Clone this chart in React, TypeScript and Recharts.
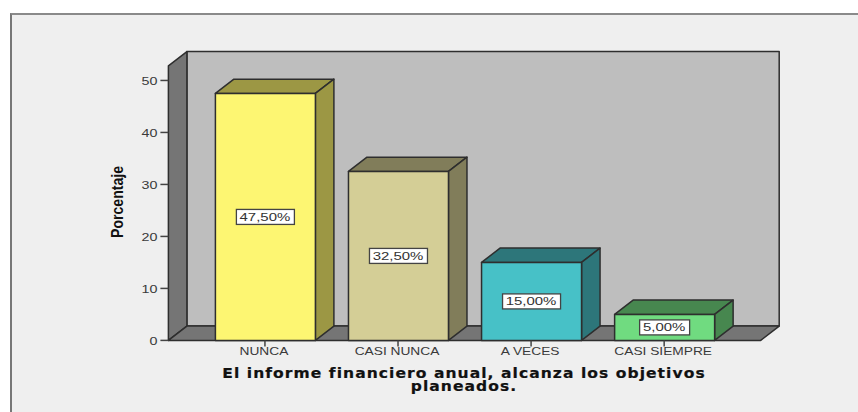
import React from "react";
import { Bar, BarChart, LabelList, XAxis, YAxis, usePlotArea } from "recharts";

const categories = ["NUNCA", "CASI NUNCA", "A VECES", "CASI SIEMPRE"];
const percentages = [47.5, 32.5, 15, 5];
const percentLabels = ["47,50%", "32,50%", "15,00%", "5,00%"];
const yTicks = [0, 10, 20, 30, 40, 50];
const yTitle = "Porcentaje";
const xTitleLines = ["El informe financiero anual, alcanza los objetivos", "planeados."];

const frontColors = ["#fdf672", "#d4ce96", "#47c1c7", "#70db80"];
const sideColors = ["#9c9744", "#817d5a", "#2d767a", "#47874f"];

const rows = categories.map((name, i) => ({ name, value: percentages[i], label: percentLabels[i] }));

const DX = 18.5;
const DY = 14.3;
const INK = "#2e2e2e";
const SANS = "'Liberation Sans', Arial, sans-serif";

function Walls() {
  const p = usePlotArea();
  if (!p) return null;
  const l = p.x, r = p.x + p.width, t = p.y, b = p.y + p.height;
  return (
    <g stroke={INK} strokeWidth={1.5} strokeLinejoin="round">
      <rect x={l + DX} y={t - DY} width={p.width} height={p.height} fill="#bebebe" />
      <polygon points={`${l},${t} ${l + DX},${t - DY} ${l + DX},${b - DY} ${l},${b}`} fill="#757575" />
      <polygon points={`${l},${b} ${l + DX},${b - DY} ${r + DX},${b - DY} ${r},${b}`} fill="#757575" />
    </g>
  );
}

function Bar3D(props: any) {
  const { x, y, width, height, index } = props;
  const front = frontColors[index];
  const side = sideColors[index];
  return (
    <g stroke={INK} strokeWidth={1.5} strokeLinejoin="round">
      <polygon points={`${x},${y} ${x + DX},${y - DY} ${x + width + DX},${y - DY} ${x + width},${y}`} fill={side} />
      <polygon points={`${x + width},${y} ${x + width + DX},${y - DY} ${x + width + DX},${y + height - DY} ${x + width},${y + height}`} fill={side} />
      <rect x={x} y={y} width={width} height={height} fill={front} />
    </g>
  );
}

function ValueBox(props: any) {
  const { x, y, width, height, value } = props;
  const cx = x + width / 2;
  const cy = y + height / 2;
  const w = String(value).length > 5 ? 58 : 50;
  return (
    <g>
      <rect x={cx - w / 2} y={cy - 7.5} width={w} height={15} fill="#fff" stroke="#444" strokeWidth={1.3} />
      <text
        transform={`translate(${cx - 0.5},${cy + 4}) scale(1.3,1)`}
        textAnchor="middle"
        fontFamily={SANS}
        fontSize={11.5}
        fill="#333"
      >
        {value}
      </text>
    </g>
  );
}

function XTick(props: any) {
  const { x, y, payload } = props;
  return (
    <text transform={`translate(${x - 1},${y + 7}) scale(1.25,1)`} textAnchor="middle" fontFamily={SANS} fontSize={11} fill="#3a3a3a">
      {payload.value}
    </text>
  );
}

function YTick(props: any) {
  const { x, y, payload } = props;
  return (
    <text transform={`translate(${x - 1},${y + 4.5}) scale(1.3,1)`} textAnchor="end" fontFamily={SANS} fontSize={11} fill="#3a3a3a">
      {payload.value}
    </text>
  );
}

function Titles() {
  return (
    <g>
      <text
        transform="translate(123,202) rotate(-90) scale(0.88,1)"
        textAnchor="middle"
        fontFamily={SANS}
        fontWeight="bold"
        fontSize={16}
        fill="#111"
      >
        {yTitle}
      </text>
      <text
        transform="translate(464,378) scale(1.11,1)"
        textAnchor="middle"
        fontFamily="'DejaVu Sans', sans-serif"
        fontWeight="bold"
        fontSize={14}
        letterSpacing={0.95}
        stroke="#111"
        strokeWidth={0.2}
        fill="#111"
      >
        {xTitleLines.map((line, i) => (
          <tspan key={line} x={0} y={i * 12.5}>
            {line}
          </tspan>
        ))}
      </text>
    </g>
  );
}

export default function App() {
  return (
    <div style={{ position: "absolute", left: 0, top: 0, width: 858, height: 412, overflow: "hidden", background: "#fff" }}>
      <div
        style={{
          position: "absolute",
          left: 10,
          top: 13,
          width: 900,
          height: 450,
          boxSizing: "border-box",
          background: "#efefef",
          borderLeft: "2px solid #777",
          borderTop: "2px solid #8a8a8a",
        }}
      />
      <div style={{ position: "absolute", left: 0, top: 0 }}>
        <BarChart
          width={858}
          height={412}
          data={rows}
          barSize={100}
          margin={{ left: 108.4, right: 97.3, top: 65.9, bottom: 41.6 }}
        >
          <Walls />
          <XAxis
            dataKey="name"
            height={30}
            padding={{ left: 30, right: 30 }}
            axisLine={false}
            tickSize={6}
            tickLine={{ stroke: "#444", strokeWidth: 1.5 }}
            tick={<XTick />}
            interval={0}
          />
          <YAxis
            width={60}
            domain={[0, 52.8]}
            ticks={yTicks}
            axisLine={false}
            tickSize={8}
            tickLine={{ stroke: "#444", strokeWidth: 1.5 }}
            tick={<YTick />}
          />
          <Bar dataKey="value" isAnimationActive={false} shape={<Bar3D />}>
            <LabelList dataKey="label" content={<ValueBox />} />
          </Bar>
          <Titles />
        </BarChart>
      </div>
    </div>
  );
}
